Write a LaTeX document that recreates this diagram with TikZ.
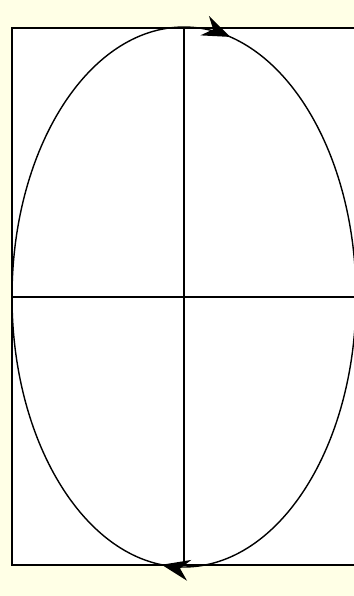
\documentclass[tikz,border=0pt]{standalone}
\usetikzlibrary{arrows.meta,decorations.markings}
\definecolor{paper}{HTML}{FFFFE6}
\tikzset{
  frame/.style={line width=1.2pt},
  orbit/.style={line width=0.8pt, postaction={decorate},
    decoration={markings,
      mark=at position 0.266 with {\arrow[scale=2.4]{Stealth}},
      mark=at position 0.784 with {\arrow[scale=2.4]{Stealth}}}}
}
\begin{document}
\begin{tikzpicture}[x=0.02cm, y=-0.02cm]
  \fill[paper] (0,0) rectangle (354,596);
  \useasboundingbox (0,0) rectangle (354,596);
  \fill[white] (12,28) rectangle (354,565);
  \coordinate (c) at (184,297);
  \begin{scope}
  \clip (0,0) rectangle (354,596);
  \draw[frame] (12,28) rectangle (360,565);
  \draw[frame] (12,297) -- (360,297);
  \draw[frame] (184,28) -- (184,565);
  \draw[orbit] (c) ellipse [x radius=172, y radius=270];
  \end{scope}
\end{tikzpicture}
\end{document}
